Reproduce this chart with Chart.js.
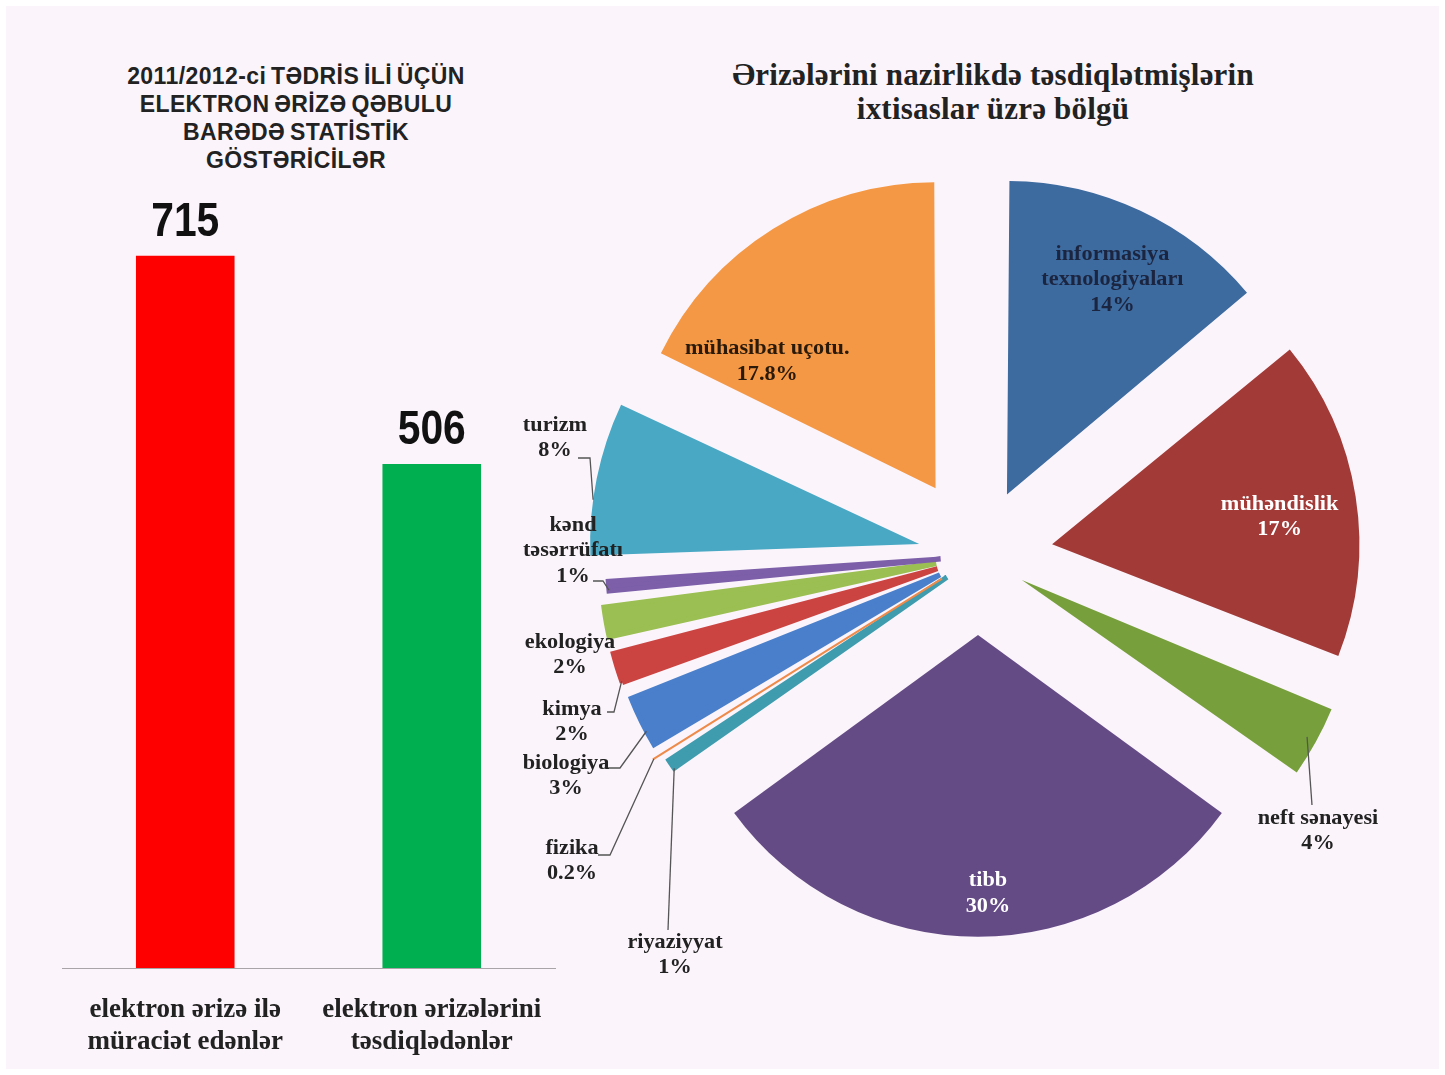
<!DOCTYPE html>
<html>
<head>
<meta charset="utf-8">
<script src="https://cdn.jsdelivr.net/npm/chart.js@4.4.1/dist/chart.umd.min.js"></script>
<style>
  html, body { margin: 0; padding: 0; }
  body { width: 1445px; height: 1075px; background: #ffffff; position: relative; overflow: hidden; }
  .frame { position: absolute; left: 6px; top: 6px; right: 6px; bottom: 6px; background: #fbf5fb; }
  .box { position: absolute; }
  .barTitle {
    position: absolute; left: 46px; top: 62px; width: 500px; text-align: center;
    font: bold 23px "Liberation Sans", Arial, sans-serif; line-height: 28px; color: #222;
    letter-spacing: 0.4px; word-spacing: -2px;
  }
  .pieTitle {
    position: absolute; left: 593px; top: 58px; width: 800px; text-align: center;
    font: bold 31px "Liberation Serif", "Times New Roman", serif; line-height: 34px; color: #222;
    letter-spacing: 0.2px;
  }
</style>
</head>
<body>
<div class="frame"></div>
<div class="barTitle">2011/2012-ci TƏDRİS İLİ ÜÇÜN<br>ELEKTRON ƏRİZƏ QƏBULU<br>BARƏDƏ STATİSTİK<br>GÖSTƏRİCİLƏR</div>
<div class="pieTitle">Ərizələrini nazirlikdə təsdiqlətmişlərin<br>ixtisaslar üzrə bölgü</div>
<div class="box" style="left:0;top:0;width:600px;height:1101px"><canvas id="bar" width="600" height="1101"></canvas></div>
<div class="box" style="left:500px;top:0;width:945px;height:1075px"><canvas id="pie" width="945" height="1075"></canvas></div>
<script>
// bar chart data
const barCategories = [["elektron ərizə ilə", "müraciət edənlər"], ["elektron ərizələrini", "təsdiqlədənlər"]];
const barValues = [715, 506];
const barColors = ["#ff0000", "#00b050"];

// pie chart data (clockwise from 12 o'clock)
const pieCategories = [
  ["informasiya", "texnologiyaları"], ["mühəndislik"], ["neft sənayesi"], ["tibb"],
  ["riyaziyyat"], ["fizika"], ["biologiya"], ["kimya"], ["ekologiya"],
  ["kənd", "təsərrüfatı"], ["turizm"], ["mühasibat uçotu."]
];
const pieValues = [14, 17, 4, 30, 1, 0.2, 3, 2, 2, 1, 8, 17.8];
const pieColors = ["#3d6a9f", "#a23b38", "#77a03c", "#654b86", "#3e9cae", "#ee8a4a",
                   "#4a7fcc", "#cc4442", "#9bbf52", "#7c5fa8", "#49a8c4", "#f59845"];
// explode amount per slice
const pieOffsets = [272, 300, 200, 316, 150, 170, 170, 170, 170, 150, 240, 320];
// outline width per slice (thin slices get a same-colour outline so they don't vanish)
const pieOutline = [0, 0, 0, 0, 5, 2, 5, 5, 5, 5, 0, 0];

// label placement: inside labels go along the slice middle, outside ones sit at fixed spots
const pieLabelPlacement = [
  { inside: true, frac: 0.76, nudge: [4, 1], color: "#1c2540" },
  { inside: true, frac: 0.73, nudge: [6, 8], color: "#ffffff" },
  { text: [340, 275], leader: [[334, 249]], t: 0.5, r: 0.97, color: "#222" },
  { inside: true, frac: 0.88, nudge: [10, -7], color: "#ffffff" },
  { text: [-303, 399], leader: [[-310, 374]], t: 0, r: 1, color: "#222" },
  { text: [-406, 305], leader: [[-380, 299], [-368, 299]], t: 0.5, r: 1, color: "#222" },
  { text: [-412, 220], leader: [[-370, 212], [-358, 212]], t: 0.3, r: 1, color: "#222" },
  { text: [-406, 166], leader: [[-371, 156], [-364, 156]], t: 0.05, r: 1, color: "#222" },
  { text: [-408, 99], color: "#222" },
  { text: [-405, -5], leader: [[-385, 25], [-375, 25]], t: 0.1, r: 1, color: "#222" },
  { text: [-423, -118], leader: [[-400, -98], [-388, -98]], t: 0.36, r: 1, color: "#222" },
  { inside: true, frac: 0.63, nudge: [-66, 37], color: "#2a1a0a" }
];

const barValuePlugin = {
  id: "barValues",
  afterDatasetsDraw(chart) {
    const ctx = chart.ctx;
    const meta = chart.getDatasetMeta(0);
    ctx.save();
    ctx.fillStyle = "#111";
    ctx.font = 'bold 48px "Liberation Sans", Arial, sans-serif';
    ctx.textAlign = "center";
    ctx.textBaseline = "alphabetic";
    meta.data.forEach((bar, i) => {
      ctx.save();
      ctx.translate(bar.x, bar.y - 20);
      ctx.scale(0.85, 1);
      ctx.fillText(String(barValues[i]), 0, 0);
      ctx.restore();
    });
    ctx.restore();
  }
};

new Chart(document.getElementById("bar"), {
  type: "bar",
  data: {
    labels: barCategories,
    datasets: [{
      data: barValues,
      backgroundColor: barColors,
      borderWidth: 0,
      categoryPercentage: 0.8,
      barPercentage: 0.5
    }]
  },
  options: {
    responsive: false,
    animation: false,
    events: [],
    layout: { padding: { left: 62, right: 45, top: 171, bottom: 17 } },
    plugins: { legend: { display: false }, tooltip: { enabled: false } },
    scales: {
      x: {
        grid: { display: false, drawTicks: false },
        border: { display: true, color: "#a8a4a8", width: 1 },
        ticks: {
          color: "#222",
          padding: 25,
          maxRotation: 0,
          font: { family: '"Liberation Serif", "Times New Roman", serif', size: 27, weight: "bold", lineHeight: 1.22 }
        }
      },
      y: { display: false, min: 0, max: 800 }
    }
  },
  plugins: [barValuePlugin]
});

const pieLabelPlugin = {
  id: "pieLabels",
  afterDatasetsDraw(chart) {
    const ctx = chart.ctx;
    const meta = chart.getDatasetMeta(0);
    ctx.save();
    ctx.font = 'bold 21px "Liberation Serif", "Times New Roman", serif';
    ctx.textAlign = "center";
    ctx.textBaseline = "middle";
    ctx.lineWidth = 1.3;
    ctx.strokeStyle = "#555";
    meta.data.forEach((arc, i) => {
      const p = pieLabelPlacement[i];
      const o = (arc.options.offset || 0) / 4;
      const alpha = arc.endAngle - arc.startAngle;
      const mid = (arc.startAngle + arc.endAngle) / 2;
      const fix = 1 - Math.sin(Math.min(Math.PI, alpha));
      const R = arc.outerRadius + o * fix;
      const ox = arc.x + Math.cos(mid) * o;
      const oy = arc.y + Math.sin(mid) * o;
      let tx, ty;
      if (p.inside) {
        tx = ox + Math.cos(mid) * R * p.frac + p.nudge[0];
        ty = oy + Math.sin(mid) * R * p.frac + p.nudge[1];
      } else {
        tx = arc.x + p.text[0];
        ty = arc.y + p.text[1];
        if (p.leader) {
          const beta = Math.max(0.001, alpha * R - (o * fix) / Math.PI) / R;
          const a = arc.startAngle + (alpha - beta) / 2 + p.t * beta;
          const ex = ox + Math.cos(a) * R * p.r;
          const ey = oy + Math.sin(a) * R * p.r;
          ctx.beginPath();
          p.leader.forEach((pt, k) => {
            if (k === 0) ctx.moveTo(arc.x + pt[0], arc.y + pt[1]);
            else ctx.lineTo(arc.x + pt[0], arc.y + pt[1]);
          });
          ctx.lineTo(ex, ey);
          ctx.stroke();
        }
      }
      const lines = pieCategories[i].concat([pieValues[i] + "%"]);
      ctx.fillStyle = p.color;
      lines.forEach((ln, k) => {
        ctx.save();
        ctx.translate(tx, ty + (k - (lines.length - 1) / 2) * 25.5);
        ctx.scale(1.06, 1);
        ctx.fillText(ln, 0, 0);
        ctx.restore();
      });
    });
    ctx.restore();
  }
};

new Chart(document.getElementById("pie"), {
  type: "pie",
  data: {
    labels: pieCategories.map(l => l.join(" ")),
    datasets: [{
      data: pieValues,
      backgroundColor: pieColors,
      borderColor: pieColors,
      borderWidth: pieOutline,
      borderJoinStyle: "miter",
      hoverBorderWidth: 0,
      offset: pieOffsets,
      hoverOffset: 0
    }]
  },
  options: {
    responsive: false,
    animation: false,
    events: [],
    radius: 298,
    layout: { padding: { left: 78, right: 67, top: 156, bottom: 119 } },
    plugins: { legend: { display: false }, tooltip: { enabled: false } }
  },
  plugins: [pieLabelPlugin]
});
</script>
</body>
</html>
